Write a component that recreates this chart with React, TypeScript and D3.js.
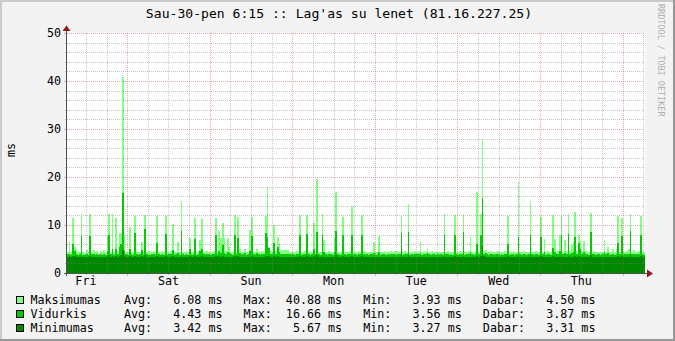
import React from 'react';
import * as d3 from 'd3';

// 30-minute samples over one week (336 points), in ms
const maxVals = [
  4.3, 6.5, 4.4, 11.5, 5.5, 5.1, 4.3, 4.4, 12.3, 4.3, 4.2, 4.8,
  4.3, 12.2, 4.4, 4.7, 4.3, 4.6, 4.2, 4.8, 4.3, 4.7, 4.4, 7.9,
  12.2, 4.4, 12.3, 4.3, 11.4, 4.5, 8.3, 8.3, 40.88, 7.9, 4.4, 4.3,
  9.5, 4.4, 4.3, 11.9, 4.5, 4.3, 4.4, 6.5, 4.3, 12.1, 4.4, 4.5,
  4.3, 4.4, 4.6, 4.3, 11.9, 4.4, 4.3, 4.5, 4.4, 11.9, 4.3, 4.4,
  4.5, 10.3, 4.3, 4.4, 6.5, 4.3, 15.0, 4.4, 4.3, 4.5, 4.4, 7.2,
  4.3, 4.4, 11.5, 4.3, 4.5, 6.9, 11.3, 4.4, 4.3, 4.5, 4.4, 4.3,
  4.4, 4.5, 11.5, 4.3, 8.8, 7.2, 10.5, 7.2, 4.6, 7.2, 5.5, 4.4,
  4.3, 12.1, 4.4, 11.6, 5.1, 4.3, 4.4, 5.1, 4.3, 4.4, 9.0, 11.6,
  4.4, 4.3, 5.1, 4.4, 4.3, 4.5, 4.4, 11.8, 18.0, 5.5, 4.6, 4.4,
  9.9, 4.5, 7.6, 6.2, 4.5, 4.8, 4.8, 4.8, 4.8, 4.4, 4.3, 4.4,
  4.3, 4.5, 4.4, 12.1, 4.3, 4.4, 4.5, 12.0, 4.4, 4.3, 4.4, 10.4,
  4.5, 19.5, 4.4, 4.3, 12.2, 6.9, 4.4, 4.3, 4.5, 4.4, 4.3, 7.2,
  16.9, 4.4, 4.3, 4.5, 11.6, 4.4, 4.3, 4.4, 4.5, 14.0, 4.3, 4.4,
  4.3, 4.5, 4.4, 12.1, 4.5, 4.3, 4.4, 4.3, 4.5, 4.4, 6.5, 4.3,
  4.4, 7.7, 4.3, 4.4, 4.5, 4.3, 4.4, 4.3, 4.5, 4.4, 4.5, 4.3,
  4.5, 4.4, 11.8, 4.3, 4.5, 4.4, 14.4, 4.3, 4.4, 4.3, 4.5, 4.4,
  4.5, 6.4, 4.3, 4.4, 4.5, 5.3, 4.4, 4.3, 4.5, 4.4, 4.3, 4.4,
  4.3, 4.4, 4.3, 12.2, 4.4, 4.5, 4.3, 4.4, 4.3, 12.0, 4.4, 4.3,
  4.5, 4.4, 12.2, 4.3, 4.4, 4.5, 7.4, 4.4, 4.3, 4.5, 16.9, 4.4,
  12.2, 27.9, 4.6, 4.8, 4.4, 4.3, 4.5, 4.4, 4.3, 4.4, 4.5, 4.3,
  4.4, 4.3, 4.5, 4.4, 11.8, 4.3, 4.4, 4.5, 4.3, 4.4, 19.0, 4.4,
  4.3, 4.5, 4.4, 4.3, 4.4, 15.0, 4.4, 4.3, 4.5, 4.4, 4.3, 11.6,
  4.4, 7.1, 4.3, 4.5, 4.4, 4.3, 12.1, 7.1, 4.4, 4.5, 7.9, 11.8,
  4.4, 6.9, 4.5, 12.3, 4.6, 5.8, 6.5, 12.8, 4.6, 7.9, 6.7, 4.6,
  6.7, 4.5, 4.4, 4.3, 12.6, 4.4, 4.5, 4.3, 4.4, 4.4, 4.3, 4.4,
  6.9, 4.4, 5.5, 4.3, 4.4, 5.1, 4.3, 5.1, 11.8, 4.4, 11.4, 4.3,
  4.4, 4.5, 5.1, 12.2, 4.4, 4.8, 4.3, 4.4, 4.5, 11.8, 4.4, 4.3,
];

const avgVals = [
  3.9, 3.9, 3.8, 6.0, 4.6, 3.9, 3.8, 3.9, 7.7, 3.8, 3.7, 3.9,
  3.8, 7.7, 3.9, 3.9, 3.8, 3.9, 3.8, 3.9, 3.8, 3.9, 3.8, 4.5,
  8.0, 3.9, 5.1, 3.8, 5.1, 3.9, 5.5, 6.0, 16.66, 4.6, 3.9, 3.8,
  5.1, 3.9, 3.8, 8.4, 3.9, 3.8, 3.9, 4.8, 3.8, 9.2, 3.9, 3.8,
  3.8, 3.9, 3.9, 3.8, 6.2, 3.9, 3.8, 3.9, 3.8, 8.2, 3.8, 3.9,
  3.9, 4.8, 3.8, 3.9, 4.2, 3.8, 8.7, 3.9, 3.8, 3.9, 3.8, 5.0,
  3.8, 3.9, 7.0, 3.8, 3.9, 4.5, 5.0, 3.9, 3.8, 3.9, 3.9, 3.8,
  3.9, 3.9, 7.9, 3.8, 4.6, 4.2, 5.8, 4.2, 3.9, 4.4, 4.1, 3.9,
  3.8, 7.9, 3.9, 7.2, 4.1, 3.8, 3.9, 4.1, 3.8, 3.9, 4.6, 7.8,
  3.9, 3.8, 4.1, 3.9, 3.8, 3.9, 3.9, 8.4, 7.5, 5.2, 3.9, 3.9,
  6.2, 3.9, 5.5, 4.4, 3.9, 4.0, 4.0, 3.9, 4.0, 3.9, 3.8, 3.9,
  3.8, 3.9, 3.9, 7.9, 3.8, 3.9, 3.9, 8.1, 3.9, 3.8, 3.9, 5.1,
  3.9, 8.5, 3.9, 3.8, 7.9, 4.3, 3.9, 3.8, 3.9, 3.9, 3.8, 4.4,
  8.75, 3.9, 3.8, 3.9, 8.0, 3.9, 3.8, 3.9, 3.9, 8.0, 3.8, 3.9,
  3.8, 3.9, 3.9, 8.0, 3.9, 3.8, 3.9, 3.8, 3.9, 3.9, 4.1, 3.8,
  3.9, 4.4, 3.8, 3.9, 3.9, 3.8, 3.9, 3.8, 3.9, 3.9, 3.9, 3.8,
  3.9, 3.9, 8.4, 3.8, 3.9, 3.9, 8.6, 3.8, 3.9, 3.8, 3.9, 3.9,
  3.9, 4.2, 3.8, 3.9, 3.9, 4.1, 3.9, 3.8, 3.9, 3.9, 3.8, 3.9,
  3.8, 3.9, 3.8, 7.9, 3.9, 3.9, 3.8, 3.9, 3.8, 7.9, 3.9, 3.8,
  3.9, 3.9, 8.5, 3.8, 3.9, 3.9, 4.3, 3.9, 3.8, 3.9, 6.0, 3.9,
  7.9, 15.6, 4.0, 4.1, 3.9, 3.8, 3.9, 3.9, 3.8, 3.9, 3.9, 3.8,
  3.9, 3.8, 3.9, 3.9, 6.0, 3.8, 3.9, 3.9, 3.8, 3.9, 7.5, 3.9,
  3.8, 3.9, 3.9, 3.8, 3.9, 7.9, 3.9, 3.8, 3.9, 3.9, 3.8, 7.5,
  3.9, 4.4, 3.8, 3.9, 3.9, 3.8, 5.2, 4.3, 3.9, 3.9, 4.5, 7.9,
  3.9, 4.2, 3.9, 8.1, 4.0, 4.2, 4.4, 7.4, 4.0, 6.2, 5.1, 4.0,
  4.3, 3.9, 3.9, 3.8, 8.5, 3.9, 3.9, 3.8, 3.9, 3.9, 3.8, 3.9,
  4.4, 3.9, 4.1, 3.8, 3.9, 4.0, 3.8, 4.0, 6.2, 3.9, 7.8, 3.8,
  3.9, 3.9, 4.0, 8.75, 3.9, 4.0, 3.8, 3.9, 3.9, 7.9, 3.9, 3.8,
];

const minVals = [
  3.4, 3.5, 3.4, 3.5, 3.5, 3.4, 3.4, 3.3, 3.6, 3.3, 3.3, 3.4,
  3.3, 3.6, 3.4, 3.3, 3.3, 3.4, 3.3, 3.4, 3.3, 3.4, 3.4, 3.5,
  3.7, 3.4, 3.5, 3.4, 3.5, 3.4, 3.6, 3.7, 4.8, 3.6, 3.4, 3.4,
  3.5, 3.4, 3.4, 3.6, 3.4, 3.4, 3.4, 3.5, 3.4, 3.7, 3.4, 3.4,
  3.3, 3.4, 3.4, 3.4, 3.5, 3.4, 3.3, 3.4, 3.4, 3.6, 3.4, 3.4,
  3.4, 3.5, 3.4, 3.4, 3.4, 3.3, 3.7, 3.4, 3.4, 3.4, 3.3, 3.5,
  3.4, 3.4, 3.6, 3.4, 3.4, 3.4, 3.5, 3.4, 3.3, 3.4, 3.4, 3.4,
  3.4, 3.4, 3.6, 3.4, 3.5, 3.4, 3.5, 3.4, 3.4, 3.4, 3.4, 3.4,
  3.3, 3.6, 3.4, 3.6, 3.4, 3.3, 3.4, 3.4, 3.3, 3.4, 3.4, 3.6,
  3.4, 3.3, 3.4, 3.4, 3.3, 3.4, 3.4, 3.6, 3.6, 3.5, 3.4, 3.4,
  3.5, 3.4, 3.5, 3.4, 3.4, 3.4, 3.4, 3.4, 3.4, 3.4, 3.3, 3.4,
  3.3, 3.4, 3.4, 3.6, 3.3, 3.4, 3.4, 3.6, 3.4, 3.3, 3.4, 3.5,
  3.4, 3.7, 3.4, 3.3, 3.6, 3.4, 3.4, 3.3, 3.4, 3.4, 3.3, 3.4,
  3.7, 3.4, 3.3, 3.4, 3.6, 3.4, 3.3, 3.4, 3.4, 3.6, 3.3, 3.4,
  3.3, 3.4, 3.4, 3.6, 3.4, 3.3, 3.4, 3.3, 3.4, 3.4, 3.4, 3.3,
  3.4, 3.4, 3.3, 3.4, 3.4, 3.3, 3.4, 3.3, 3.4, 3.4, 3.4, 3.3,
  3.4, 3.4, 4.6, 3.3, 3.4, 3.4, 3.7, 3.3, 3.4, 3.3, 3.4, 3.4,
  3.4, 3.4, 3.3, 3.4, 3.4, 3.4, 3.4, 3.3, 3.4, 3.4, 3.3, 3.4,
  3.3, 3.4, 3.3, 3.6, 3.4, 3.4, 3.3, 3.4, 3.3, 3.6, 3.4, 3.3,
  3.4, 3.4, 3.6, 3.3, 3.4, 3.4, 3.4, 3.4, 3.3, 3.4, 3.5, 3.4,
  3.6, 5.67, 3.5, 3.4, 3.4, 3.3, 3.4, 3.4, 3.3, 3.4, 3.4, 3.3,
  3.4, 3.3, 3.4, 3.4, 3.5, 3.3, 3.4, 3.4, 3.3, 3.4, 3.6, 3.4,
  3.3, 3.4, 3.4, 3.3, 3.4, 3.7, 3.4, 3.3, 3.4, 3.4, 3.3, 3.6,
  3.4, 3.4, 3.3, 3.4, 3.4, 3.3, 3.5, 3.4, 3.4, 3.4, 3.4, 3.6,
  3.4, 3.4, 3.4, 3.6, 3.4, 3.4, 3.4, 3.5, 3.4, 3.5, 3.4, 3.4,
  3.4, 3.4, 3.4, 3.3, 3.7, 3.4, 3.4, 3.3, 3.4, 3.4, 3.3, 3.4,
  3.4, 3.4, 3.4, 3.3, 3.4, 3.4, 3.3, 3.4, 3.5, 3.4, 3.6, 3.3,
  3.4, 3.4, 3.4, 3.7, 3.4, 3.4, 3.3, 3.4, 3.4, 3.6, 3.4, 3.3,
];

const dayLabels = ['Fri', 'Sat', 'Sun', 'Mon', 'Tue', 'Wed', 'Thu'];
const yTicks = [0, 10, 20, 30, 40, 50];
const seriesNames = ['Maksimumas', 'Vidurkis', 'Minimumas'];
const seriesColors = ['#80FF80', '#00CC00', '#008800'];
const statAvg = ['6.08', '4.43', '3.42'];
const statMax = ['40.88', '16.66', '5.67'];
const statMin = ['3.93', '3.56', '3.27'];
const statCur = ['4.50', '3.87', '3.31'];
const title = "Sau-30-pen 6:15 :: Lag'as su lenet (81.16.227.25)";

const W = 675;
const H = 341;
const X0 = 67;
const X1 = 645;
const Y0 = 273;
const Y1 = 33;
const STEP_H = 0.5; // hours per sample
const FIRST_MIDNIGHT = 17.5; // hours from start to first midnight
const MONO = '"DejaVu Sans Mono", monospace';

export default function App() {
  const x = d3.scaleLinear().domain([0, 168]).range([X0, X1]);
  const y = d3.scaleLinear().domain([0, 50]).range([Y0, Y1]);

  const mkArea = (vals: number[]) => {
    const pts = vals.concat([vals[vals.length - 1]]);
    return d3
      .area<number>()
      .x((_, i) => x(i * STEP_H))
      .y0(Y0)
      .y1((d) => y(d))
      .curve(d3.curveStepAfter)(pts) as string;
  };

  const vGrid = d3.range(FIRST_MIDNIGHT - 12, 168, 6).map((h) => ({
    px: Math.round(x(h)) + 0.5,
    major: Math.abs(((h - FIRST_MIDNIGHT) % 24 + 24) % 24) < 1e-6,
  }));
  const hGrid = d3.range(2, 51, 2).map((v) => ({
    py: Math.round(y(v)) + 0.5,
    major: v % 10 === 0,
  }));
  const minorC = 'rgba(130,130,130,0.45)';
  const majorC = 'rgba(210,60,60,0.45)';

  const pad = (s: string) => s.padStart(6, ' ');

  return (
    <svg
      width={W}
      height={H}
      style={{ position: 'fixed', left: 0, top: 0, display: 'block' }}
      xmlns="http://www.w3.org/2000/svg"
    >
      <rect x={0} y={0} width={W} height={H} fill="#F3F3F3" />
      {/* 3D-ish border */}
      <rect x={0} y={0} width={W} height={2} fill="#CBCBCB" />
      <rect x={0} y={0} width={2} height={H} fill="#CBCBCB" />
      <rect x={0} y={H - 2} width={W} height={2} fill="#999999" />
      <rect x={W - 2} y={0} width={2} height={H} fill="#999999" />

      {/* canvas */}
      <rect x={X0} y={Y1} width={X1 - X0} height={Y0 - Y1} fill="#FFFFFF" />

      {/* data areas */}
      <g shapeRendering="crispEdges">
        <path d={mkArea(maxVals)} fill={seriesColors[0]} />
        <path d={mkArea(avgVals)} fill={seriesColors[1]} />
        <path d={mkArea(minVals)} fill={seriesColors[2]} />
      </g>

      {/* grid */}
      <g shapeRendering="crispEdges">
        {vGrid.map((g, i) => (
          <g key={'v' + i}>
            <line
              x1={g.px}
              x2={g.px}
              y1={Y1}
              y2={Y0}
              stroke={g.major ? majorC : minorC}
              strokeDasharray="1,1"
            />
            <line
              x1={g.px}
              x2={g.px}
              y1={Y0}
              y2={Y0 + (g.major ? 3 : 2)}
              stroke={g.major ? majorC : minorC}
            />
          </g>
        ))}
        {hGrid.map((g, i) => (
          <g key={'h' + i}>
            <line
              x1={X0}
              x2={X1}
              y1={g.py}
              y2={g.py}
              stroke={g.major ? majorC : minorC}
              strokeDasharray="1,1"
            />
            <line
              x1={X0 - (g.major ? 3 : 2)}
              x2={X0}
              y1={g.py}
              y2={g.py}
              stroke={g.major ? majorC : minorC}
            />
          </g>
        ))}
      </g>

      {/* axes */}
      <g shapeRendering="crispEdges">
        <line x1={X0 - 3} x2={648} y1={Y0 + 0.5} y2={Y0 + 0.5} stroke="#505050" />
        <line x1={X0 - 0.5} x2={X0 - 0.5} y1={Y0 + 3} y2={30} stroke="#505050" />
      </g>
      <polygon points={`647,269.5 653,273.5 647,277.5`} fill="#8B1A1A" />
      <polygon points={`62.5,31 66.5,25.5 70.5,31`} fill="#8B1A1A" />

      {/* y tick labels */}
      {yTicks.map((t) => (
        <text
          key={'yt' + t}
          x={61}
          y={y(t)}
          dy="0.36em"
          textAnchor="end"
          fontFamily={MONO}
          fontSize={11.7}
          fill="#000"
        >
          {t}
        </text>
      ))}

      {/* x labels at noon */}
      {dayLabels.map((d, i) => (
        <text
          key={'xl' + d}
          x={x(FIRST_MIDNIGHT - 12 + i * 24)}
          y={284.5}
          textAnchor="middle"
          fontFamily={MONO}
          fontSize={11.7}
          fill="#000"
        >
          {d}
        </text>
      ))}

      {/* title */}
      <text x={339} y={18.3} textAnchor="middle" fontFamily={MONO} fontSize={13.1} fill="#000">
        {title}
      </text>

      {/* y label */}
      <text
        transform="translate(15,150) rotate(-90)"
        textAnchor="middle"
        fontFamily={MONO}
        fontSize={11.7}
        fill="#000"
      >
        ms
      </text>

      {/* watermark */}
      <text
        transform="translate(658,4) rotate(90)"
        textAnchor="start"
        fontFamily={MONO}
        fontSize={8.5}
        fill="#B0B0B0"
      >
        RRDTOOL / TOBI OETIKER
      </text>

      {/* legend */}
      {seriesNames.map((n, i) => {
        const by = 296 + i * 14;
        const line = `Avg: ${pad(statAvg[i])} ms   Max: ${pad(statMax[i])} ms   Min: ${pad(statMin[i])} ms   Dabar: ${pad(statCur[i])} ms`;
        return (
          <g key={'lg' + n}>
            <rect
              x={16.5}
              y={by + 0.5}
              width={7}
              height={7}
              fill={seriesColors[i]}
              stroke="#000"
              shapeRendering="crispEdges"
            />
            <text x={30.5} y={by + 7.8} fontFamily={MONO} fontSize={11.7} fill="#000">
              {n}
            </text>
            <text
              x={124}
              y={by + 7.8}
              fontFamily={MONO}
              fontSize={11.7}
              fill="#000"
              style={{ whiteSpace: 'pre' }}
              xmlSpace="preserve"
            >
              {line}
            </text>
          </g>
        );
      })}
    </svg>
  );
}
